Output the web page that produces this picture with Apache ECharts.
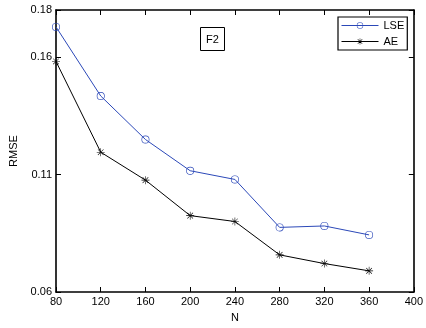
<!DOCTYPE html>
<html><head><meta charset="utf-8">
<script src="https://cdn.jsdelivr.net/npm/echarts@6/dist/echarts.min.js"></script>
<style>html,body{margin:0;padding:0;background:#fff}#c{width:426px;height:328px}</style>
</head><body><div id="c"></div>
<script>
const nValues = [80, 120, 160, 200, 240, 280, 320, 360];
const lseValues = [0.1728, 0.1434, 0.1249, 0.1116, 0.1079, 0.0875, 0.0881, 0.0843];
const aeValues = [0.1581, 0.1195, 0.1076, 0.0925, 0.0900, 0.0758, 0.0721, 0.0690];
const yTicks = [0.06, 0.11, 0.16, 0.18];
const xTicks = [80, 120, 160, 200, 240, 280, 320, 360, 400];

const FONT = 'Liberation Sans';
const star = 'path://M9.3,0h1.4v20h-1.4z M0,9.3h20v1.4h-20z M2.4,3.4l1,-1l14.2,14.2l-1,1z M17.6,3.4l-1,-1l-14.2,14.2l1,1z';
const ring = 'path://M10,0A10,10,0,1,1,9.99,0z M10,1.6A8.4,8.4,0,1,0,10.01,1.6z';

const chart = echarts.init(document.getElementById('c'), null, {renderer: 'canvas'});
const axisCommon = {
  axisLine: {show: true, onZero: false, lineStyle: {color: '#000', width: 1.6}},
  splitLine: {show: false},
  axisTick: {show: true, inside: true, length: 5, lineStyle: {color: '#000', width: 1}},
};
chart.setOption({
  animation: false,
  textStyle: {fontFamily: FONT},
  grid: {left: 56, right: 11, top: 10, bottom: 35},
  title: {
    text: 'F2', left: 200, top: 27,
    borderColor: '#000', borderWidth: 1, padding: [7, 6, 6, 6],
    textStyle: {fontFamily: FONT, fontSize: 11, fontWeight: 'normal', color: '#000'}
  },
  legend: {
    orient: 'vertical', left: 338, top: 17,
    borderColor: '#000', borderWidth: 1.2, padding: [3, 3, 3, 3],
    itemWidth: 37, itemHeight: 8, itemGap: 5,
    backgroundColor: '#fff',
    lineStyle: {width: 1},
    textStyle: {fontFamily: FONT, fontSize: 11, color: '#000'},
    data: ['LSE', 'AE']
  },
  xAxis: [
    Object.assign({}, axisCommon, {
      type: 'value', min: 80, max: 400, interval: 40,
      name: 'N', nameLocation: 'middle', nameGap: 20,
      nameTextStyle: {fontFamily: FONT, fontSize: 11, color: '#000'},
      axisLabel: {fontFamily: FONT, fontSize: 11, color: '#000', margin: 4,
        customValues: xTicks},
      axisTick: Object.assign({}, axisCommon.axisTick, {customValues: xTicks})
    }),
    Object.assign({}, axisCommon, {
      type: 'value', position: 'top', min: 80, max: 400, interval: 40,
      axisLabel: {show: false}
    })
  ],
  yAxis: [
    Object.assign({}, axisCommon, {
      type: 'value', min: 0.06, max: 0.18, interval: 0.01,
      name: 'RMSE', nameLocation: 'middle', nameGap: 33, nameRotate: 90,
      nameTextStyle: {fontFamily: FONT, fontSize: 11, color: '#000'},
      axisLabel: {fontFamily: FONT, fontSize: 11, color: '#000', margin: 4,
        customValues: yTicks, formatter: v => String(+v.toFixed(2))},
      axisTick: Object.assign({}, axisCommon.axisTick, {customValues: yTicks})
    }),
    Object.assign({}, axisCommon, {
      type: 'value', position: 'right', min: 0.06, max: 0.18, interval: 0.01,
      axisLabel: {show: false},
      axisTick: Object.assign({}, axisCommon.axisTick, {customValues: yTicks})
    })
  ],
  series: [
    {
      name: 'LSE', type: 'line', xAxisIndex: 0, yAxisIndex: 0,
      data: nValues.map((n, i) => [n, lseValues[i]]),
      symbol: ring, symbolSize: 8,
      lineStyle: {color: '#2b48b8', width: 1},
      itemStyle: {color: '#2b48b8', borderWidth: 0}
    },
    {
      name: 'AE', type: 'line', xAxisIndex: 0, yAxisIndex: 0,
      data: nValues.map((n, i) => [n, aeValues[i]]),
      symbol: star, symbolSize: 8,
      lineStyle: {color: '#000', width: 1},
      itemStyle: {color: '#000'}
    }
  ]
});
</script></body></html>
